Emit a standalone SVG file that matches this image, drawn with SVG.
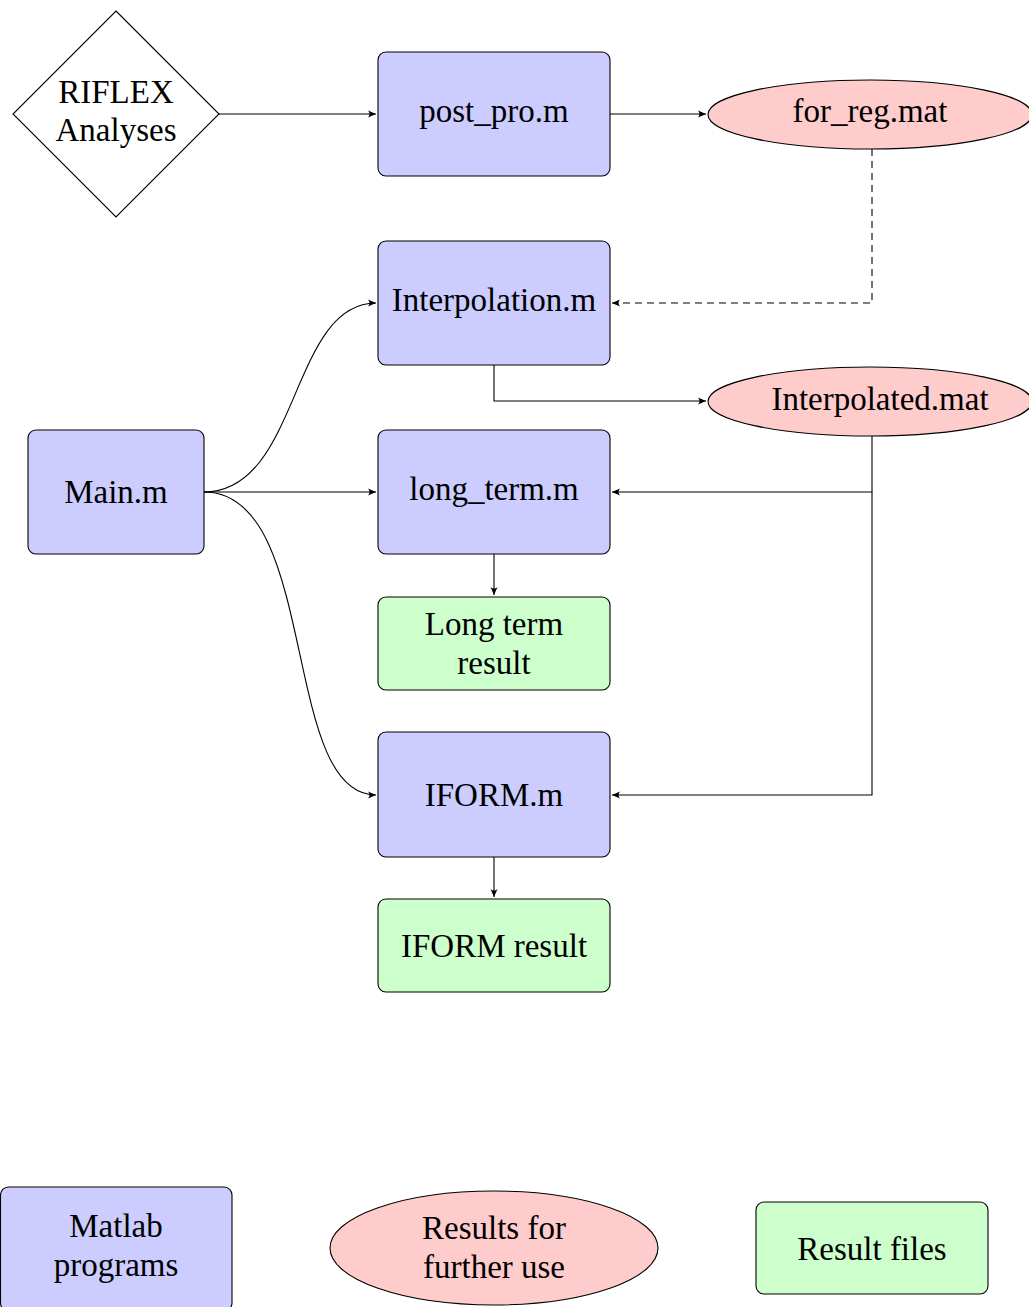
<svg xmlns="http://www.w3.org/2000/svg" width="1029" height="1307" viewBox="0 0 1029 1307">
<style>
.prog{fill:#ccccff;stroke:#000;stroke-width:1.1}
.res{fill:#ccffcc;stroke:#000;stroke-width:1.1}
.file{fill:#ffcccc;stroke:#000;stroke-width:1.1}
.dia{fill:#fff;stroke:#000;stroke-width:1.1}
text{font-family:"Liberation Serif","Times New Roman",serif;font-size:33px;fill:#000;text-anchor:middle}
.c{fill:none;stroke:#000;stroke-width:1.1}
.d{stroke-dasharray:7,5}
</style>
<defs>
<marker id="ah" markerWidth="10" markerHeight="8" refX="8" refY="4" orient="auto" markerUnits="userSpaceOnUse">
<path d="M0,0.5 Q3,4 0,7.5 L8,4 Z" fill="#000"/>
</marker>
</defs>
<rect width="1029" height="1307" fill="#fff"/>
<g id="connectors">
<path class="c" d="M219,114 H376" marker-end="url(#ah)"/>
<path class="c" d="M610,114 H706" marker-end="url(#ah)"/>
<path class="c d" d="M872,149 V303 H612" marker-end="url(#ah)"/>
<path class="c" d="M494,365 V401 H706" marker-end="url(#ah)"/>
<path class="c" d="M204,492 C300,492 290,303 376,303" marker-end="url(#ah)"/>
<path class="c" d="M204,492 H376" marker-end="url(#ah)"/>
<path class="c" d="M204,492 C320,492 280,795 376,795" marker-end="url(#ah)"/>
<path class="c" d="M872,436 V492 H612" marker-end="url(#ah)"/>
<path class="c" d="M872,492 V795 H612" marker-end="url(#ah)"/>
<path class="c" d="M494,554 V595" marker-end="url(#ah)"/>
<path class="c" d="M494,857 V897" marker-end="url(#ah)"/>
</g>
<g id="riflex">
<polygon class="dia" points="116,11 219,114 116,217 13,114"/>
<text x="116" y="103">RIFLEX</text>
<text x="116" y="141">Analyses</text>
</g>
<g id="post_pro">
<rect class="prog" x="378" y="52" width="232" height="124" rx="8"/>
<text x="494" y="122">post_pro.m</text>
</g>
<g id="for_reg">
<ellipse class="file" cx="870" cy="114.5" rx="162" ry="34.5"/>
<text x="870" y="122">for_reg.mat</text>
</g>
<g id="interpolation">
<rect class="prog" x="378" y="241" width="232" height="124" rx="8"/>
<text x="494" y="311">Interpolation.m</text>
</g>
<g id="interpolated">
<ellipse class="file" cx="870" cy="401.5" rx="162" ry="34.5"/>
<text x="880" y="410">Interpolated.mat</text>
</g>
<g id="main">
<rect class="prog" x="28" y="430" width="176" height="124" rx="8"/>
<text x="116" y="503">Main.m</text>
</g>
<g id="long_term">
<rect class="prog" x="378" y="430" width="232" height="124" rx="8"/>
<text x="494" y="500">long_term.m</text>
</g>
<g id="long_term_result">
<rect class="res" x="378" y="597" width="232" height="93" rx="8"/>
<text x="494" y="635">Long term</text>
<text x="494" y="674">result</text>
</g>
<g id="iform">
<rect class="prog" x="378" y="732" width="232" height="125" rx="8"/>
<text x="494" y="806">IFORM.m</text>
</g>
<g id="iform_result">
<rect class="res" x="378" y="899" width="232" height="93" rx="8"/>
<text x="494" y="957">IFORM result</text>
</g>
<g id="legend_matlab">
<rect class="prog" x="0.5" y="1187" width="231.5" height="124" rx="8"/>
<text x="116" y="1237">Matlab</text>
<text x="116" y="1276">programs</text>
</g>
<g id="legend_results">
<ellipse class="file" cx="494" cy="1248" rx="164" ry="57"/>
<text x="494" y="1239">Results for</text>
<text x="494" y="1278">further use</text>
</g>
<g id="legend_files">
<rect class="res" x="756" y="1202" width="232" height="92" rx="8"/>
<text x="872" y="1260">Result files</text>
</g>
</svg>
